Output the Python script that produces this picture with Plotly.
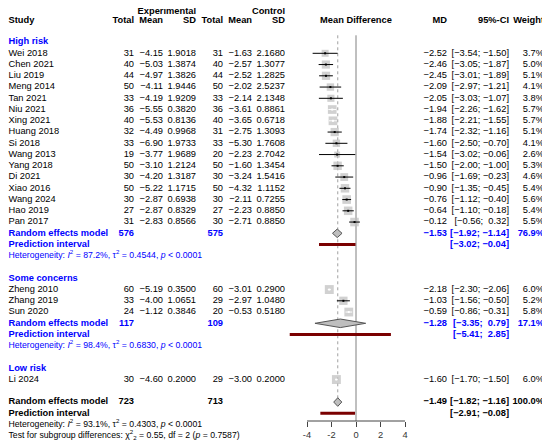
import math
import plotly.graph_objects as go

# ---- data ----
study = ["Wei 2018", "Chen 2021", "Liu 2019", "Meng 2014", "Tan 2021", "Niu 2021",
         "Xing 2021", "Huang 2018", "Si 2018", "Wang 2013", "Yang 2018", "Di 2021",
         "Xiao 2016", "Wang 2024", "Hao 2019", "Pan 2017",
         "Zheng 2010", "Zhang 2019", "Sun 2020",
         "Li 2024"]
group = ["High risk"] * 16 + ["Some concerns"] * 3 + ["Low risk"]
exp_n = [31, 40, 44, 50, 33, 36, 40, 32, 33, 19, 50, 30, 50, 30, 27, 31, 60, 33, 24, 30]
exp_mean = [-4.15, -5.03, -4.97, -4.11, -4.19, -5.55, -5.53, -4.49, -6.90, -3.77, -3.10, -4.20,
            -5.22, -2.87, -2.87, -2.83, -5.19, -4.00, -1.12, -4.60]
exp_sd = [1.9018, 1.3874, 1.3826, 1.9446, 1.9209, 0.3820, 0.8136, 0.9968, 1.9733, 1.9689,
          1.2124, 1.3187, 1.1715, 0.6938, 0.8329, 0.8566, 0.3500, 1.0651, 0.3846, 0.2000]
ctl_n = [31, 40, 44, 50, 33, 36, 40, 31, 33, 20, 50, 30, 50, 30, 27, 30, 60, 29, 20, 29]
ctl_mean = [-1.63, -2.57, -2.52, -2.02, -2.14, -3.61, -3.65, -2.75, -5.30, -2.23, -1.60, -3.24,
            -4.32, -2.11, -2.23, -2.71, -3.01, -2.97, -0.53, -3.00]
ctl_sd = [2.1680, 1.3077, 1.2825, 2.5237, 2.1348, 0.8861, 0.6718, 1.3093, 1.7608, 2.7042,
          1.3454, 1.5416, 1.1152, 0.7255, 0.8850, 0.8850, 0.2900, 1.0480, 0.5180, 0.2000]
md = [-2.52, -2.46, -2.45, -2.09, -2.05, -1.94, -1.88, -1.74, -1.60, -1.54, -1.50, -0.96,
      -0.90, -0.76, -0.64, -0.12, -2.18, -1.03, -0.59, -1.60]
md_lo = [-3.54, -3.05, -3.01, -2.97, -3.03, -2.26, -2.21, -2.32, -2.50, -3.02, -2.00, -1.69,
         -1.35, -1.12, -1.10, -0.56, -2.30, -1.56, -0.86, -1.70]
md_hi = [-1.50, -1.87, -1.89, -1.21, -1.07, -1.62, -1.55, -1.16, -0.70, -0.06, -1.00, -0.23,
         -0.45, -0.40, -0.18, 0.32, -2.06, -0.50, -0.31, -1.50]
weight = [3.7, 5.0, 5.1, 4.1, 3.8, 5.7, 5.7, 5.1, 4.1, 2.6, 5.3, 4.6, 5.4, 5.6, 5.4, 5.5,
          6.0, 5.2, 5.8, 6.0]

groups = ["High risk", "Some concerns", "Low risk"]
grp_n_e = {"High risk": 576, "Some concerns": 117}
grp_n_c = {"High risk": 575, "Some concerns": 109}
grp_md = {"High risk": -1.53, "Some concerns": -1.28}
grp_lo = {"High risk": -1.92, "Some concerns": -3.35}
grp_hi = {"High risk": -1.14, "Some concerns": 0.79}
grp_w = {"High risk": 76.9, "Some concerns": 17.1}
grp_pi_lo = {"High risk": -3.02, "Some concerns": -5.41}
grp_pi_hi = {"High risk": -0.04, "Some concerns": 2.85}
grp_i2 = {"High risk": 87.2, "Some concerns": 98.4}
grp_tau2 = {"High risk": 0.4544, "Some concerns": 0.6830}

tot_n_e, tot_n_c = 723, 713
tot_md, tot_lo, tot_hi, tot_w = -1.49, -1.82, -1.16, 100.0
tot_pi_lo, tot_pi_hi = -2.91, -0.08
tot_i2, tot_tau2 = 93.1, 0.4303
sub_chi2, sub_df, sub_p = 0.55, 2, 0.7587

ticks = [-4, -2, 0, 2, 4]

# ---- geometry, in window pixels (the page body puts the figure 8px in) ----
WIN_W, WIN_H = 550, 447
OFF = 8
W, H = WIN_W - OFF, WIN_H - OFF
PX = 12.25               # pixels per MD unit
X0 = 356                 # window pixel of MD = 0
ROW0, ROWH = 53.3, 11.25
AXIS_PX = 421
FS, FS_HET = 9.3, 8.7
FONT = "Liberation Sans, Arial, sans-serif"
BLUE = "#0000ff"

COL = dict(study=8.5, e_n=134, e_mean=163, e_sd=196, c_n=223, c_mean=252, c_sd=285,
           md=447, ci=509, w=544)


def f(v, d=2):
    return f"{v:.{d}f}".replace("-", "\u2212")


def ci(lo, hi):
    def p(v):
        return (" " if v >= 0 else "") + f(v)
    return f"[{p(lo)}; {p(hi)}]"


cells = []  # (x, align, row, text, color, size)


def put(x, align, r, txt, color="black", size=FS):
    cells.append((x, align, r, txt, color, size))


# headers
put(COL["e_sd"], "r", -3.66, "<b>Experimental</b>")
put(COL["c_sd"], "r", -3.66, "<b>Control</b>")
put(COL["study"], "l", -2.9, "<b>Study</b>")
for k, t in [("e_n", "Total"), ("e_mean", "Mean"), ("e_sd", "SD"), ("c_n", "Total"),
             ("c_mean", "Mean"), ("c_sd", "SD"), ("md", "MD"), ("ci", "95%-CI"), ("w", "Weight")]:
    put(COL[k], "r", -2.9, f"<b>{t}</b>")
put(X0, "c", -2.9, "<b>Mean Difference</b>")

rows = [0] * len(study)
summ = []   # (row, md, lo, hi)
preds = []  # (row, lo, hi)
r = -1
for g in groups:
    idx = [i for i, gg in enumerate(group) if gg == g]
    put(COL["study"], "l", r, f"<b>{g}</b>", BLUE)
    r += 1
    for i in idx:
        rows[i] = r
        put(COL["study"], "l", r, study[i])
        put(COL["e_n"], "r", r, str(exp_n[i]))
        put(COL["e_mean"], "r", r, f(exp_mean[i]))
        put(COL["e_sd"], "r", r, f(exp_sd[i], 4))
        put(COL["c_n"], "r", r, str(ctl_n[i]))
        put(COL["c_mean"], "r", r, f(ctl_mean[i]))
        put(COL["c_sd"], "r", r, f(ctl_sd[i], 4))
        put(COL["md"], "r", r, f(md[i]))
        put(COL["ci"], "r", r, ci(md_lo[i], md_hi[i]))
        put(COL["w"], "r", r, f"{weight[i]:.1f}%")
        r += 1
    if len(idx) > 1:
        put(COL["study"], "l", r, "<b>Random effects model</b>", BLUE)
        put(COL["e_n"], "r", r, f"<b>{grp_n_e[g]}</b>", BLUE)
        put(COL["c_n"], "r", r, f"<b>{grp_n_c[g]}</b>", BLUE)
        put(COL["md"], "r", r, f"<b>{f(grp_md[g])}</b>", BLUE)
        put(COL["ci"], "r", r, f"<b>{ci(grp_lo[g], grp_hi[g])}</b>", BLUE)
        put(COL["w"], "r", r, f"<b>{grp_w[g]:.1f}%</b>", BLUE)
        summ.append((r, grp_md[g], grp_lo[g], grp_hi[g]))
        r += 1
        put(COL["study"], "l", r, "<b>Prediction interval</b>", BLUE)
        put(COL["ci"], "r", r, f"<b>{ci(grp_pi_lo[g], grp_pi_hi[g])}</b>", BLUE)
        preds.append((r, grp_pi_lo[g], grp_pi_hi[g]))
        r += 1
        put(COL["study"], "l", r,
            f"Heterogeneity: <i>I</i><sup>2</sup> = {grp_i2[g]:.1f}%, "
            f"\u03c4<sup>2</sup> = {grp_tau2[g]:.4f}, <i>p</i> < 0.0001", BLUE, FS_HET)
        r += 1
    r += 1

put(COL["study"], "l", r, "<b>Random effects model</b>")
put(COL["e_n"], "r", r, f"<b>{tot_n_e}</b>")
put(COL["c_n"], "r", r, f"<b>{tot_n_c}</b>")
put(COL["md"], "r", r, f"<b>{f(tot_md)}</b>")
put(COL["ci"], "r", r, f"<b>{ci(tot_lo, tot_hi)}</b>")
put(COL["w"], "r", r, f"<b>{tot_w:.1f}%</b>")
summ.append((r, tot_md, tot_lo, tot_hi))
tot_row = r
r += 1
put(COL["study"], "l", r, "<b>Prediction interval</b>")
put(COL["ci"], "r", r, f"<b>{ci(tot_pi_lo, tot_pi_hi)}</b>")
preds.append((r, tot_pi_lo, tot_pi_hi))
r += 1
put(COL["study"], "l", r,
    f"Heterogeneity: <i>I</i><sup>2</sup> = {tot_i2:.1f}%, \u03c4<sup>2</sup> = {tot_tau2:.4f}, "
    f"<i>p</i> < 0.0001", "black", FS_HET)
r += 1
put(COL["study"], "l", r,
    f"Test for subgroup differences: \u03c7<sup>2</sup><sub>{sub_df}</sub> = {sub_chi2:.2f}, "
    f"df = {sub_df} (<i>p</i> = {sub_p:.4f})", "black", FS_HET)

fig = go.Figure()

y_top = (OFF - ROW0) / ROWH
y_bot = (WIN_H - ROW0) / ROWH
axis_row = (AXIS_PX - ROW0) / ROWH
axis_pos = (WIN_H - AXIS_PX) / H
line_top = -1.6

# reference lines
fig.add_trace(go.Scatter(x=[0, 0], y=[line_top, axis_row], mode="lines",
                         line=dict(color="#808080", width=1), hoverinfo="skip"))
fig.add_trace(go.Scatter(x=[tot_md, tot_md], y=[line_top, tot_row], mode="lines",
                         line=dict(color="#a0a0a0", width=1, dash="dot"), hoverinfo="skip"))

# study squares
size = [3.65 * math.sqrt(w) for w in weight]
fig.add_trace(go.Scatter(x=md, y=rows, mode="markers",
                         marker=dict(symbol="square", size=size, color="#bebebe",
                                     line=dict(width=0)), hoverinfo="skip"))

# confidence intervals (white when inside the square)
for inside in (False, True):
    xs, ys, cx, cy = [], [], [], []
    for i in range(len(study)):
        is_in = (md_hi[i] - md_lo[i]) * PX < size[i]
        if is_in != inside:
            continue
        xs += [md_lo[i], md_hi[i], None]
        ys += [rows[i], rows[i], None]
        cx.append(md[i])
        cy.append(rows[i])
    col = "white" if inside else "black"
    fig.add_trace(go.Scatter(x=xs, y=ys, mode="lines", line=dict(color=col, width=1),
                             hoverinfo="skip"))
    fig.add_trace(go.Scatter(x=cx, y=cy, mode="markers",
                             marker=dict(symbol="square", size=2, color=col), hoverinfo="skip"))

# diamonds
for rr, m, lo, hi in summ:
    fig.add_trace(go.Scatter(x=[lo, m, hi, m, lo], y=[rr, rr - 0.38, rr, rr + 0.38, rr],
                             mode="lines", fill="toself", fillcolor="#bebebe",
                             line=dict(color="#555555", width=1), hoverinfo="skip"))

# prediction intervals
for rr, lo, hi in preds:
    fig.add_trace(go.Scatter(x=[lo, hi], y=[rr, rr], mode="lines",
                             line=dict(color="#7a0000", width=3), hoverinfo="skip"))

# text columns
pos = {"l": "middle right", "r": "middle left", "c": "middle center"}
for a in ("l", "r", "c"):
    sel = [c for c in cells if c[1] == a]
    fig.add_trace(go.Scatter(
        x=[c[0] for c in sel], y=[c[2] for c in sel], text=[c[3] for c in sel],
        mode="text", textposition=pos[a], xaxis="x2", cliponaxis=False,
        textfont=dict(family=FONT, size=[c[5] for c in sel], color=[c[4] for c in sel]),
        hoverinfo="skip"))

fig.add_shape(type="line", xref="x", yref="paper", x0=min(ticks), x1=max(ticks),
              y0=axis_pos, y1=axis_pos, line=dict(color="#444444", width=1))

fig.update_layout(
    width=W, height=H, margin=dict(l=0, r=0, t=0, b=0),
    paper_bgcolor="white", plot_bgcolor="white", showlegend=False,
    font=dict(family=FONT, size=FS, color="black"),
    xaxis=dict(range=[(OFF - X0) / PX, (WIN_W - X0) / PX], anchor="free", position=axis_pos,
               showgrid=False, zeroline=False, showline=False,
               tickvals=ticks, ticktext=[str(t) for t in ticks],
               ticks="outside", ticklen=5, tickcolor="#444444",
               tickfont=dict(family=FONT, size=FS, color="#333333")),
    xaxis2=dict(range=[OFF, WIN_W], overlaying="x", anchor="y", visible=False),
    yaxis=dict(range=[y_bot, y_top], visible=False, showgrid=False, zeroline=False),
)

fig.write_html("out.html")
